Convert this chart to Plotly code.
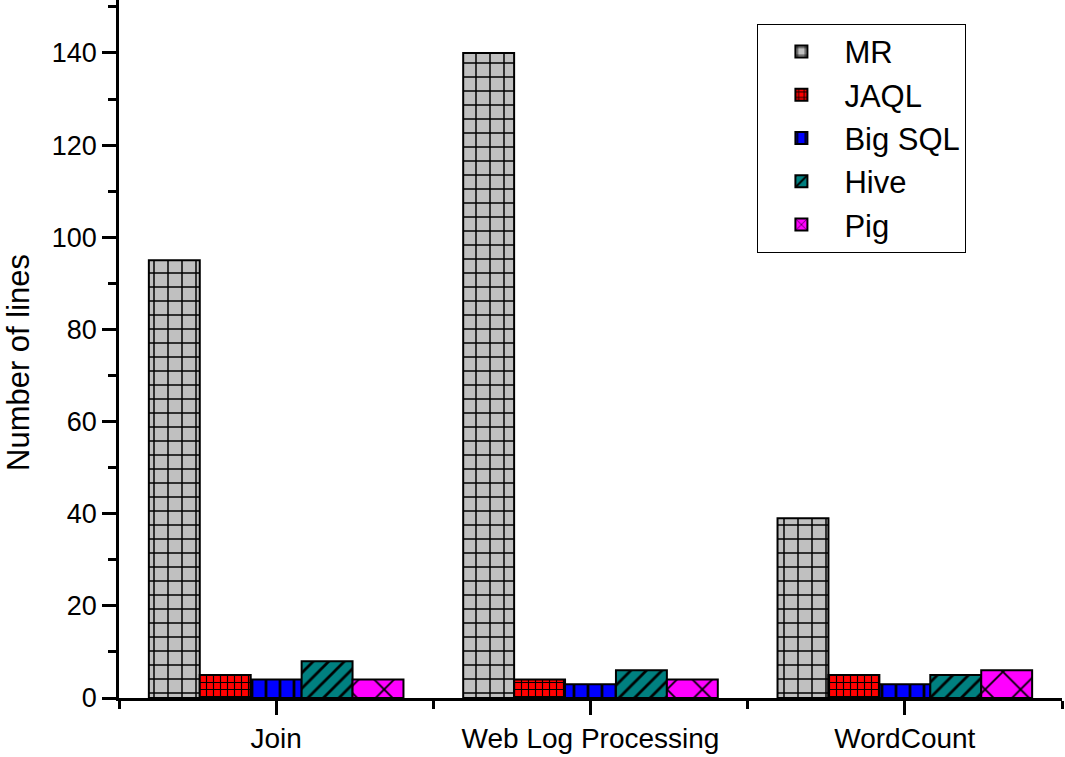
import plotly.graph_objects as go

categories = ["Join", "Web Log Processing", "WordCount"]
series_names = ["MR", "JAQL", "Big SQL", "Hive", "Pig"]
mr = [95, 140, 39]
jaql = [5, 4, 5]
bigsql = [4, 3, 3]
hive = [8, 6, 5]
pig = [4, 4, 6]
y_ticks = [0, 20, 40, 60, 80, 100, 120, 140]

values = [mr, jaql, bigsql, hive, pig]
fills = ["#c0c0c0", "#ff0000", "#0000ff", "#008080", "#ff00ff"]
shapes = ["+", "+", "|", "/", "x"]
sizes = [14, 7, 14, 11, 25]
solids = [0.2, 0.3, 0.2, 0.25, 0.14]

xpos = list(range(len(categories)))
font = "Liberation Sans, Arial, sans-serif"

fig = go.Figure()
for name, vals, fc, sh, sz, so in zip(series_names, values, fills, shapes, sizes, solids):
    fig.add_trace(go.Bar(
        x=xpos, y=vals, name=name,
        marker=dict(
            color=fc,
            line=dict(color="black", width=2),
            pattern=dict(shape=sh, size=sz, solidity=so, fgcolor="black",
                         fgopacity=1, bgcolor=fc, fillmode="overlay"),
        ),
    ))

fig.add_annotation(
    text="Number of lines", xref="paper", yref="paper",
    x=-0.106, y=0.48, xanchor="center", yanchor="middle",
    textangle=-90, showarrow=False, font=dict(size=31),
)

fig.update_layout(
    width=1065, height=757,
    margin=dict(l=119, r=3, t=0, b=59),
    paper_bgcolor="white", plot_bgcolor="white",
    barmode="group", bargap=0.19, bargroupgap=0,
    font=dict(family=font, size=28, color="black"),
    showlegend=True,
    legend=dict(
        x=0.677, y=0.966, xanchor="left", yanchor="top",
        bgcolor="white", bordercolor="black", borderwidth=1,
        font=dict(size=31), tracegroupgap=0, itemwidth=76,
    ),
    xaxis=dict(
        range=[-0.5, 2.5], tickvals=xpos, ticktext=categories,
        showline=True, linecolor="black", linewidth=2.5,
        ticks="outside", ticklen=14, tickwidth=2.5, tickcolor="black",
        showgrid=False, zeroline=False, automargin=False,
        minor=dict(ticks="outside", tick0=-0.5, dtick=1, ticklen=8,
                   tickwidth=2.5, tickcolor="black", showgrid=False),
        tickfont=dict(size=28),
    ),
    yaxis=dict(
        range=[0, 151.5], tickvals=y_ticks,
        showline=True, linecolor="black", linewidth=2.5,
        ticks="outside", ticklen=14, tickwidth=2.5, tickcolor="black",
        showgrid=False, zeroline=False, automargin=False,
        minor=dict(ticks="outside", tick0=0, dtick=10, ticklen=8,
                   tickwidth=2.5, tickcolor="black", showgrid=False),
        tickfont=dict(size=27),
    ),
)

fig.write_html(
    "out.html",
    config={"displayModeBar": False},
    post_script="document.body.style.margin='0px';document.body.style.overflow='hidden';",
)
